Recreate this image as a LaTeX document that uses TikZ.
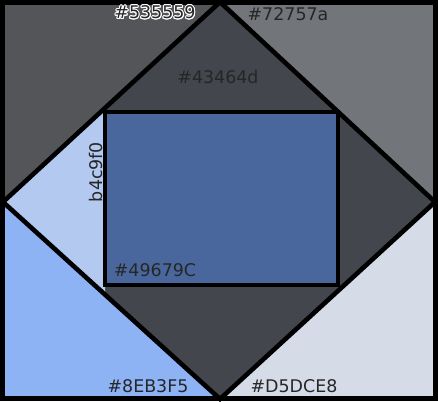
\documentclass[tikz,border=0pt]{standalone}
\usepackage{fontspec}
\usepackage{tikz}
\usepackage{contour}
\usetikzlibrary{positioning}
\usepackage{xcolor}
\newfontfamily\labelfont{DejaVu Sans}
\definecolor{cTopLeft}{HTML}{535559}
\definecolor{cTopRight}{HTML}{72757A}
\definecolor{cBotLeft}{HTML}{8EB3F5}
\definecolor{cBotRight}{HTML}{D5DCE8}
\definecolor{cDiamond}{HTML}{43464D}
\definecolor{cSide}{HTML}{B4C9F0}
\definecolor{cCore}{HTML}{49679C}
\contourlength{1pt}

\begin{document}
\begin{tikzpicture}[
    x=1bp, y=-1bp,
    edge/.style={draw=black, line width=4.6bp, line join=miter},
    lbl/.style={font=\labelfont\fontsize{17.5}{20}\selectfont, text=black!85, inner sep=0pt}
]
    \useasboundingbox (0,0) rectangle (438,401);
    % Corner quarters
    \fill[cTopLeft] (0,0) rectangle (220,202);
    \fill[cTopRight] (220,0) rectangle (438,202);
    \fill[cBotLeft] (0,202) rectangle (220,401);
    \fill[cBotRight] (220,202) rectangle (438,401);
    
    % Diamond and side triangle
    \fill[cDiamond] (220,2) -- (435,202) -- (220,399) -- (3,202) -- cycle;
    \fill[cSide] (3,202) -- (105,108) -- (105,295) -- cycle;
    
    % Inner rectangle
    \fill[cCore] (105,112) rectangle (338,285);
    
    % Outlines
    \draw[edge] (2.3,2.3) rectangle (435.7,398.7);
    \draw[edge] (220,2) -- (435,202) -- (220,399) -- (3,202) -- cycle;
    \draw[edge] (105,112) rectangle (338,285);
    
    % Labels
    \node[lbl] (tTopLeft) at (155,13) {\contour{white}{\#535559}};
    \node[lbl] (tTopRight) at (288,14) {\#72757a};
    \node[lbl] (tDiamond) at (218,77) {\#43464d};
    \node[lbl, rotate=90] (tSide) at (96,172) {b4c9f0};
    \node[lbl] (tCore) at (155,270) {\#49679C};
    \node[lbl] (tBotLeft) at (148,386) {\#8EB3F5};
    \node[lbl] (tBotRight) at (294,386) {\#D5DCE8};
\end{tikzpicture}
\end{document}
